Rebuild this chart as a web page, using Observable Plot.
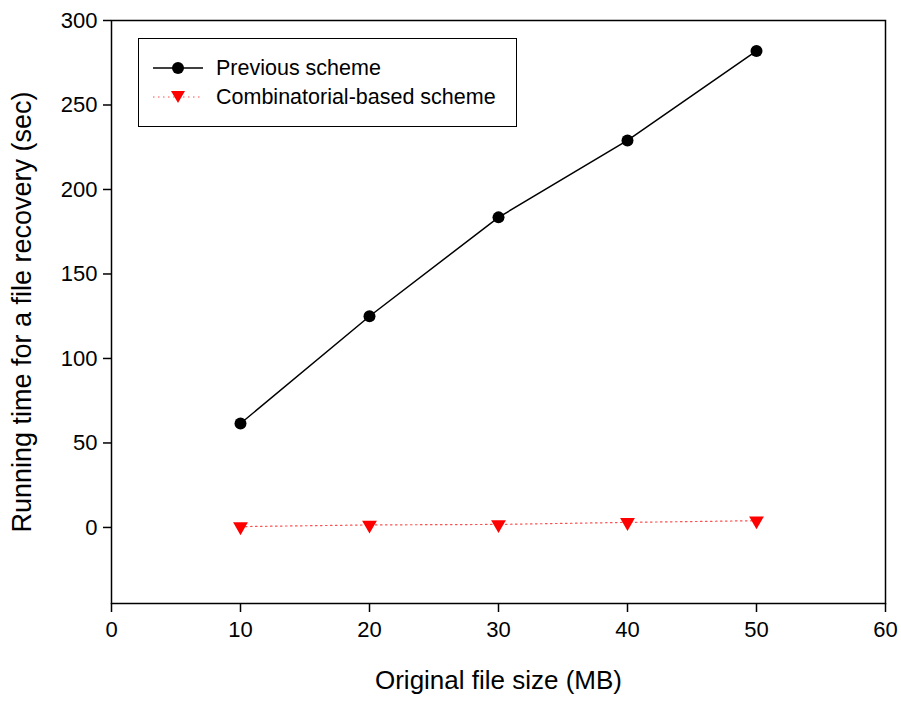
<!DOCTYPE html>
<html>
<head>
<meta charset="utf-8">
<script src="https://cdn.jsdelivr.net/npm/d3@7"></script>
<script src="https://cdn.jsdelivr.net/npm/@observablehq/plot@0.6"></script>
<style>
  html, body { margin: 0; padding: 0; background: #fff; }
  #wrap { position: relative; width: 901px; height: 702px; font-family: "Liberation Sans", Arial, sans-serif; }
  #legend { position: absolute; left: 138px; top: 38px; width: 377px; height: 87px; border: 1.5px solid #000; background: #fff; box-sizing: content-box; }
  .row { position: absolute; left: 14px; height: 26px; display: flex; align-items: center; font-size: 21.5px; color: #000; white-space: nowrap; }
  .row svg { margin-right: 13px; }
</style>
</head>
<body>
<div id="wrap"></div>
<script>
const fileSizes = [10, 20, 30, 40, 50];
const previousScheme = [61.5, 125, 183.5, 229, 282];
const combinatorialScheme = [0.5, 1.5, 1.8, 3, 4];
const xTicks = [0, 10, 20, 30, 40, 50, 60];
const yTicks = [0, 50, 100, 150, 200, 250, 300];
const seriesNames = ["Previous scheme", "Combinatorial-based scheme"];
const xLabel = "Original file size (MB)";
const yLabel = "Running time for a file recovery (sec)";

const prev = fileSizes.map((x, i) => ({x, y: previousScheme[i]}));
const comb = fileSizes.map((x, i) => ({x, y: combinatorialScheme[i]}));

const chart = Plot.plot({
  width: 901,
  height: 702,
  marginLeft: 111,
  marginRight: 16,
  marginTop: 20,
  marginBottom: 99,
  style: {fontFamily: "'Liberation Sans', Arial, sans-serif", color: "#000", background: "#fff"},
  x: {domain: [0, 60]},
  y: {domain: [-45, 300]},
  marks: [
    Plot.frame({stroke: "#000", strokeWidth: 1.5}),
    Plot.axisX({ticks: xTicks, tickSize: 9, tickPadding: 9, fontSize: 22, label: null, stroke: "#000", strokeWidth: 1.5}),
    Plot.axisY({ticks: yTicks, tickSize: 8, tickPadding: 6, fontSize: 22, label: null, stroke: "#000", strokeWidth: 1.5}),
    Plot.text([xLabel], {frameAnchor: "bottom", dy: 85, text: d => d, fontSize: 26, fill: "#000", textAnchor: "middle"}),
    Plot.text([yLabel], {frameAnchor: "left", dx: -89, rotate: -90, text: d => d, fontSize: 27, fill: "#000", textAnchor: "middle"}),
    Plot.line(comb, {x: "x", y: "y", stroke: "#ff0000", strokeWidth: 1.2, strokeDasharray: "1.5,3.5", strokeOpacity: 0.7}),
    Plot.dot(comb, {x: "x", y: "y", symbol: "triangle", rotate: 180, r: 5.5, fill: "#ff0000", stroke: "none"}),
    Plot.line(prev, {x: "x", y: "y", stroke: "#000", strokeWidth: 1.5}),
    Plot.dot(prev, {x: "x", y: "y", r: 6, fill: "#000", stroke: "none"})
  ]
});

const wrap = document.getElementById("wrap");
wrap.appendChild(chart);

const legend = document.createElement("div");
legend.id = "legend";
legend.innerHTML = `
  <div class="row" style="top:16px;">
    <svg width="50" height="20"><line x1="0" y1="10" x2="50" y2="10" stroke="#000" stroke-width="1.5"/><circle cx="25" cy="10" r="6" fill="#000"/></svg>
    <span>${seriesNames[0]}</span>
  </div>
  <div class="row" style="top:45px;">
    <svg width="50" height="20"><line x1="0" y1="10" x2="50" y2="10" stroke="#ff0000" stroke-width="1.2" stroke-dasharray="1.5,3.5" stroke-opacity="0.7"/><path d="M18,4 L32,4 L25,16 Z" fill="#ff0000"/></svg>
    <span>${seriesNames[1]}</span>
  </div>`;
wrap.appendChild(legend);
</script>
</body>
</html>
